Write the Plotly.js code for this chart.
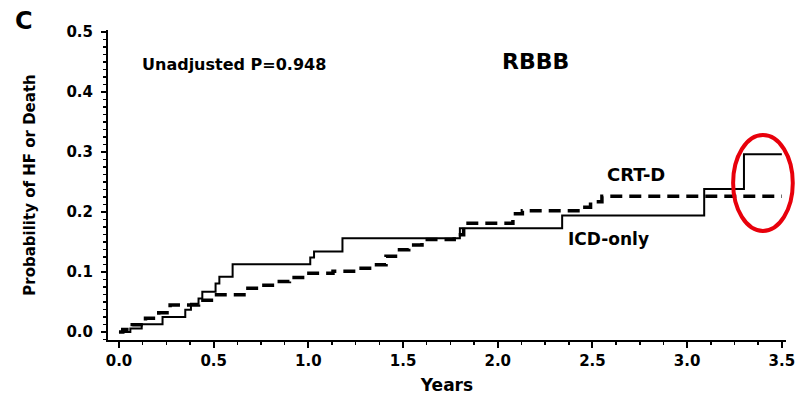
<!DOCTYPE html>
<html>
<head>
<meta charset="utf-8">
<script src="https://cdn.plot.ly/plotly-3.0.1.min.js"></script>
<style>html,body{margin:0;padding:0;background:#fff;}#chart{width:796px;height:403px;}</style>
</head>
<body>
<div id="chart"></div>
<script>
// ICD-only (solid) Kaplan-Meier style step curve
const icdYears = [0, 0.06, 0.12, 0.23, 0.35, 0.38, 0.42, 0.44, 0.51, 0.53, 0.60, 1.01, 1.03, 1.18, 1.80, 2.34, 3.09, 3.30, 3.50];
const icdProb  = [0, 0.006, 0.013, 0.025, 0.037, 0.047, 0.056, 0.067, 0.081, 0.092, 0.113, 0.124, 0.134, 0.156, 0.173, 0.194, 0.238, 0.296, 0.296];

// CRT-D (dashed) step curve
const crtYears = [0, 0.02, 0.07, 0.14, 0.21, 0.27, 0.42, 0.50, 0.66, 0.75, 0.83, 0.90, 0.98, 1.13, 1.25, 1.35, 1.41, 1.46, 1.53, 1.60, 1.77, 1.82, 2.08, 2.13, 2.46, 2.49, 2.55, 3.50];
const crtProb  = [0, 0.004, 0.012, 0.023, 0.032, 0.045, 0.053, 0.062, 0.073, 0.078, 0.084, 0.091, 0.098, 0.101, 0.106, 0.112, 0.126, 0.137, 0.145, 0.154, 0.162, 0.181, 0.197, 0.202, 0.208, 0.217, 0.226, 0.226];

const xTickVals = [0, 0.5, 1.0, 1.5, 2.0, 2.5, 3.0, 3.5];
const xTickText = ["0.0", "0.5", "1.0", "1.5", "2.0", "2.5", "3.0", "3.5"];
const yTickVals = [0, 0.1, 0.2, 0.3, 0.4, 0.5];
const yTickText = ["0.0", "0.1", "0.2", "0.3", "0.4", "0.5"];

const panelLabel = "C";
const pText = "Unadjusted P=0.948";
const groupTitle = "RBBB";
const crtLabel = "CRT-D";
const icdLabel = "ICD-only";

const FONT = "DejaVu Sans";

const traces = [
  {x: icdYears, y: icdProb, type: "scatter", mode: "lines", name: icdLabel,
   line: {shape: "hv", color: "#000", width: 2}},
  {x: crtYears, y: crtProb, type: "scatter", mode: "lines", name: crtLabel,
   line: {shape: "hv", color: "#000", width: 3.5, dash: "12px,7px"}}
];

const layout = {
  width: 796, height: 403,
  margin: {l: 108, r: 10, t: 30, b: 63},
  paper_bgcolor: "#fff", plot_bgcolor: "#fff",
  showlegend: false,
  font: {family: FONT, color: "#000"},
  xaxis: {
    range: [-0.058, 3.522],
    tickvals: xTickVals, ticktext: xTickText,
    showgrid: false, zeroline: false,
    showline: true, linecolor: "#000", linewidth: 2,
    ticks: "outside", ticklen: 6, tickwidth: 2, tickcolor: "#000",
    minor: {dtick: 0.125, tick0: 0, ticks: "outside", ticklen: 3, tickwidth: 1.5, tickcolor: "#000", showgrid: false},
    tickfont: {family: FONT, size: 15, color: "#000", weight: "bold"},
    title: {text: "Years", font: {family: FONT, size: 17, color: "#000", weight: "bold"}, standoff: 10}
  },
  yaxis: {
    range: [-0.0133, 0.503],
    tickvals: yTickVals, ticktext: yTickText,
    showgrid: false, zeroline: false,
    showline: true, linecolor: "#000", linewidth: 2,
    ticks: "outside", ticklen: 5, tickwidth: 2, tickcolor: "#000",
    ticklabelstandoff: 5,
    minor: {dtick: 0.0125, tick0: 0, ticks: "outside", ticklen: 3, tickwidth: 1.5, tickcolor: "#000", showgrid: false},
    tickfont: {family: FONT, size: 15, color: "#000", weight: "bold"},
    title: {text: "Probability of HF or Death", font: {family: FONT, size: 15, color: "#000", weight: "bold"}, standoff: 27}
  },
  annotations: [
    {text: panelLabel, xref: "paper", yref: "paper", x: -0.124, y: 1.029, xanchor: "center", yanchor: "middle", showarrow: false,
     font: {family: FONT, size: 24, color: "#000", weight: "bold"}},
    {text: pText, xref: "x", yref: "y", x: 0.607, y: 0.445, showarrow: false,
     font: {family: FONT, size: 16, color: "#000", weight: "bold"}},
    {text: groupTitle, xref: "x", yref: "y", x: 2.20, y: 0.451, showarrow: false,
     font: {family: FONT, size: 22, color: "#000", weight: "bold"}},
    {text: crtLabel, xref: "x", yref: "y", x: 2.73, y: 0.262, showarrow: false,
     font: {family: FONT, size: 18, color: "#000", weight: "bold"}},
    {text: icdLabel, xref: "x", yref: "y", x: 2.587, y: 0.155, showarrow: false,
     font: {family: FONT, size: 17, color: "#000", weight: "bold"}}
  ],
  shapes: [
    {type: "circle", xref: "paper", yref: "paper", x0: 0.922, x1: 1.010, y0: 0.352, y1: 0.661,
     line: {color: "#e8000b", width: 4}, layer: "above"}
  ]
};

Plotly.newPlot("chart", traces, layout, {staticPlot: true, displayModeBar: false});
</script>
</body>
</html>
